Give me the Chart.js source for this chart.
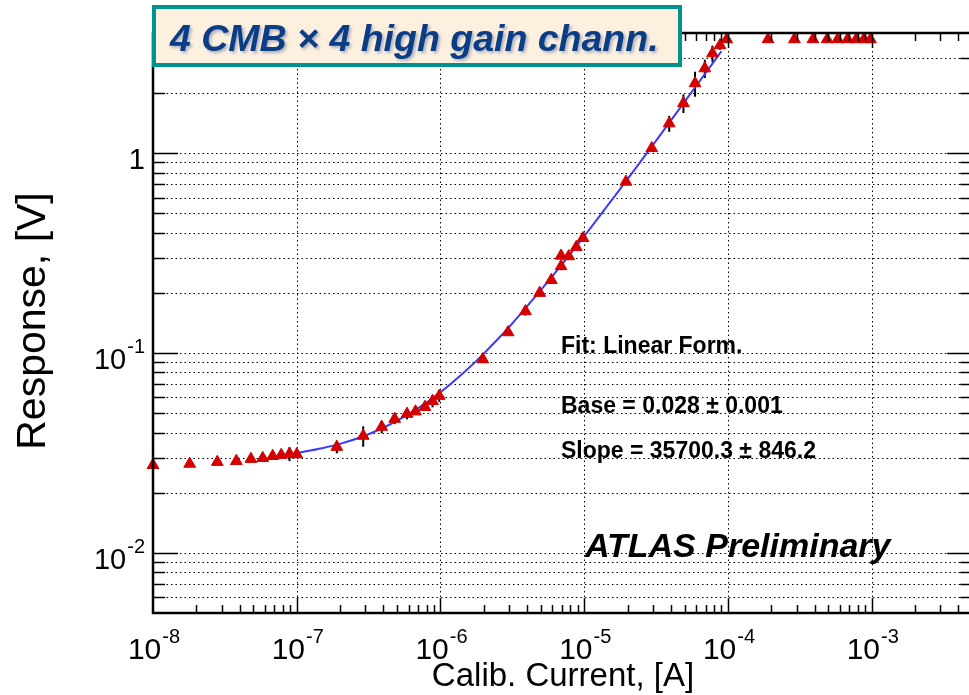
<!DOCTYPE html>
<html>
<head>
<meta charset="utf-8">
<script src="https://cdn.jsdelivr.net/npm/chart.js@4.4.1/dist/chart.umd.min.js"></script>
<style>
  html, body { margin: 0; padding: 0; background: #fff; overflow: hidden; }
  #wrap { width: 980px; height: 695px; }
</style>
</head>
<body>
<div id="wrap"><canvas id="chart" width="980" height="695"></canvas></div>
<script>
const currentA = [1e-8, 1.8e-8, 2.8e-8, 3.8e-8, 4.8e-8, 5.8e-8, 6.8e-8, 7.8e-8, 8.9e-8, 1e-7,
  1.9e-7, 2.9e-7, 3.9e-7, 4.8e-7, 5.85e-7, 6.7e-7, 7.8e-7, 8.8e-7, 9.8e-7,
  1.97e-6, 2.95e-6, 3.9e-6, 4.9e-6, 5.9e-6, 6.9e-6, 6.9e-6, 7.8e-6, 8.8e-6, 9.8e-6,
  1.95e-5, 2.95e-5, 3.9e-5, 4.9e-5, 5.9e-5, 6.9e-5, 7.8e-5, 8.8e-5, 9.8e-5,
  1.9e-4, 2.9e-4, 3.9e-4, 4.9e-4, 5.8e-4, 6.8e-4, 7.8e-4, 8.8e-4, 9.8e-4];
const responseV = [0.0275, 0.0279, 0.0285, 0.0288, 0.0295, 0.0298, 0.0305, 0.0309, 0.0313, 0.0311,
  0.0339, 0.0385, 0.0427, 0.0468, 0.0496, 0.051, 0.0537, 0.0575, 0.061,
  0.093, 0.127, 0.162, 0.2, 0.232, 0.272, 0.307, 0.305, 0.339, 0.376,
  0.72, 1.06, 1.41, 1.78, 2.24, 2.66, 3.16, 3.47, 3.72,
  3.72, 3.72, 3.72, 3.72, 3.72, 3.72, 3.72, 3.72, 3.72];
const responseErr = [0, 0, 0, 0, 0.0005, 0.0006, 0.0008, 0.0012, 0.0025, 0.0012,
  0.0024, 0.0045, 0.003, 0.0027, 0.003, 0.002, 0.002, 0.004, 0.004,
  0.003, 0.004, 0.008, 0.008, 0.009, 0.012, 0.012, 0.012, 0.012, 0.012,
  0.02, 0.04, 0.13, 0.19, 0.32, 0.28, 0.3, 0.18, 0,
  0, 0, 0, 0, 0, 0, 0, 0, 0];

// fit curve (linear form) as it is drawn
const fitX = [1e-7, 1.5e-7, 2e-7, 3e-7, 4e-7, 5e-7, 7e-7, 1e-6, 1.5e-6, 2e-6, 3e-6, 5e-6, 7e-6,
  1e-5, 1.5e-5, 2e-5, 3e-5, 5e-5, 7e-5, 9e-5];
const fitY = [0.0316, 0.0334, 0.0351, 0.0387, 0.0423, 0.0459, 0.053, 0.0637, 0.0816, 0.0994, 0.135,
  0.207, 0.278, 0.385, 0.564, 0.742, 1.099, 1.813, 2.527, 3.24];

// axes
const xMin = 1e-8, xMax = 5e-3;
const yMin = 0.005, yMax = 4;
const xTickValues = [1e-8, 1e-7, 1e-6, 1e-5, 1e-4, 1e-3];
const xTickExp = ["-8", "-7", "-6", "-5", "-4", "-3"];
const yTickValues = [0.01, 0.1, 1];
const yTickBase = ["10", "10", "1"];
const yTickExp = ["-2", "-1", ""];

const titleText = "4 CMB \u00d7 4 high gain chann.";
const fitLines = ["Fit: Linear Form.", "Base = 0.028 \u00b1 0.001", "Slope = 35700.3 \u00b1 846.2"];
const FONT = "'Liberation Sans', Arial, Helvetica, sans-serif";

function minorValues(lo, hi) {
  const out = [];
  for (let d = Math.floor(Math.log10(lo)); d <= Math.ceil(Math.log10(hi)); d++) {
    for (let m = 1; m <= 9; m++) {
      const v = m * Math.pow(10, d);
      if (v > lo * 1.0001 && v < hi * 0.9999) out.push({ v, major: m === 1 });
    }
  }
  return out;
}

function label10(ctx, x, y, base, exp, size, align) {
  // draws "10" with raised exponent; align 'center' or 'right'
  ctx.font = size + "px " + FONT;
  const wb = ctx.measureText(base).width;
  const supSize = Math.round(size * 0.68);
  ctx.font = supSize + "px " + FONT;
  const we = exp ? ctx.measureText(exp).width + 1 : 0;
  const total = wb + we;
  let x0 = align === "center" ? x - total / 2 : x - total;
  ctx.textAlign = "left";
  ctx.font = size + "px " + FONT;
  ctx.fillText(base, x0, y);
  if (exp) {
    ctx.font = supSize + "px " + FONT;
    ctx.fillText(exp, x0 + wb + 1, y - size * 0.55);
  }
}

const rootStyle = {
  id: "rootStyle",
  beforeDatasetsDraw(chart) {
    const { ctx, chartArea: a, scales } = chart;
    const xs = scales.x, ys = scales.y;
    ctx.save();
    // dotted grid
    ctx.strokeStyle = "#000";
    ctx.lineWidth = 1;
    ctx.setLineDash([1.5, 3]);
    minorValues(yMin, yMax).forEach(t => {
      const py = Math.round(ys.getPixelForValue(t.v)) + 0.5;
      ctx.beginPath(); ctx.moveTo(a.left, py); ctx.lineTo(a.right, py); ctx.stroke();
    });
    xTickValues.forEach(v => {
      const px = Math.round(xs.getPixelForValue(v)) + 0.5;
      ctx.beginPath(); ctx.moveTo(px, a.top); ctx.lineTo(px, a.bottom); ctx.stroke();
    });
    ctx.setLineDash([]);
    // error bars
    ctx.strokeStyle = "#000";
    ctx.lineWidth = 2;
    currentA.forEach((x, i) => {
      const e = responseErr[i];
      if (!e) return;
      const px = xs.getPixelForValue(x);
      ctx.beginPath();
      ctx.moveTo(px, ys.getPixelForValue(responseV[i] - e));
      ctx.lineTo(px, ys.getPixelForValue(responseV[i] + e));
      ctx.stroke();
    });
    ctx.restore();
  },
  afterDatasetsDraw(chart) {
    const { ctx, chartArea: a, scales } = chart;
    const xs = scales.x, ys = scales.y;
    ctx.save();
    ctx.strokeStyle = "#000";
    // tick marks
    ctx.lineWidth = 1.5;
    minorValues(xMin, xMax).forEach(t => {
      const px = Math.round(xs.getPixelForValue(t.v)) + 0.5;
      const len = t.major ? 15 : 8;
      ctx.beginPath(); ctx.moveTo(px, a.bottom); ctx.lineTo(px, a.bottom - len); ctx.stroke();
      ctx.beginPath(); ctx.moveTo(px, a.top); ctx.lineTo(px, a.top + len); ctx.stroke();
    });
    minorValues(yMin, yMax).forEach(t => {
      const py = Math.round(ys.getPixelForValue(t.v)) + 0.5;
      const len = t.major ? 25 : 12;
      ctx.beginPath(); ctx.moveTo(a.left, py); ctx.lineTo(a.left + len, py); ctx.stroke();
      ctx.beginPath(); ctx.moveTo(a.right, py); ctx.lineTo(a.right - len, py); ctx.stroke();
    });
    // frame
    ctx.lineWidth = 2.5;
    ctx.strokeRect(a.left, a.top, a.right - a.left, a.bottom - a.top);

    // tick labels
    ctx.fillStyle = "#000";
    ctx.textBaseline = "alphabetic";
    xTickValues.forEach((v, i) => {
      label10(ctx, xs.getPixelForValue(v) + 1, 659, "10", xTickExp[i], 30, "center");
    });
    yTickValues.forEach((v, i) => {
      label10(ctx, a.left - 8, ys.getPixelForValue(v) + 16, yTickBase[i], yTickExp[i], 29, "right");
    });

    // axis titles
    ctx.textAlign = "center";
    ctx.font = "33px " + FONT;
    ctx.fillText("Calib. Current, [A]", 563, 686);
    ctx.save();
    ctx.translate(45, 321);
    ctx.rotate(-Math.PI / 2);
    ctx.font = "41px " + FONT;
    ctx.fillText("Response, [V]", 0, 0);
    ctx.restore();

    // fit info
    ctx.textAlign = "left";
    ctx.font = "bold 23px " + FONT;
    ctx.fillText(fitLines[0], 561, 353);
    ctx.fillText(fitLines[1], 561, 413);
    ctx.fillText(fitLines[2], 561, 458);

    ctx.font = "italic bold 34px " + FONT;
    ctx.fillText("ATLAS Preliminary", 585, 557);

    // title box
    ctx.fillStyle = "#fdf0de";
    ctx.fillRect(152, 5, 530, 62);
    ctx.strokeStyle = "#00938e";
    ctx.lineWidth = 4;
    ctx.strokeRect(154, 7, 526, 58);
    ctx.shadowColor = "rgba(20,60,140,0.35)";
    ctx.shadowOffsetX = 2;
    ctx.shadowOffsetY = 2;
    ctx.shadowBlur = 3;
    ctx.fillStyle = "#0b3d84";
    ctx.font = "italic bold 37.5px " + FONT;
    ctx.fillText(titleText, 170, 51);
    ctx.restore();
  }
};

new Chart(document.getElementById("chart"), {
  type: "scatter",
  data: {
    datasets: [
      {
        label: "fit",
        type: "line",
        data: fitX.map((x, i) => ({ x, y: fitY[i] })),
        borderColor: "#3a3aff",
        borderWidth: 2,
        pointRadius: 0,
        tension: 0.3,
        fill: false,
        order: 2
      },
      {
        label: "data",
        data: currentA.map((x, i) => ({ x, y: responseV[i] })),
        pointStyle: "triangle",
        pointRadius: 6.8,
        backgroundColor: "#d40000",
        borderColor: "#d40000",
        borderWidth: 1,
        clip: false,
        order: 1
      }
    ]
  },
  options: {
    responsive: false,
    animation: false,
    layout: { padding: { left: 153, right: 6, top: 33, bottom: 82 } },
    plugins: { legend: { display: false }, tooltip: { enabled: false } },
    scales: {
      x: { type: "logarithmic", min: xMin, max: xMax, display: false },
      y: { type: "logarithmic", min: yMin, max: yMax, display: false }
    }
  },
  plugins: [rootStyle]
});
</script>
</body>
</html>
